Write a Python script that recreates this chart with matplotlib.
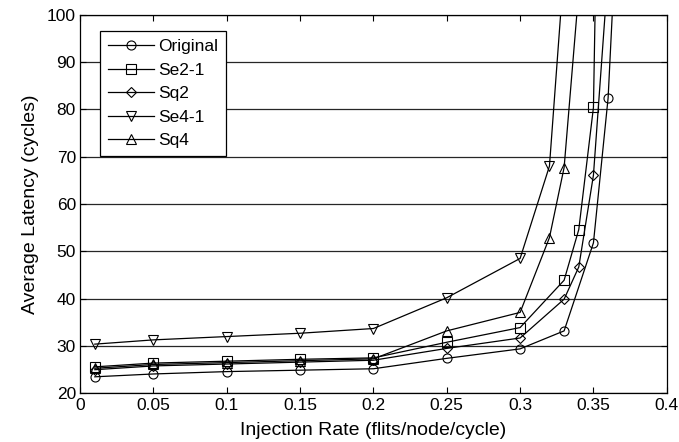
import matplotlib
matplotlib.use('Agg')
import matplotlib.pyplot as plt

# injection rates and latencies
x_original = [0.01, 0.05, 0.1, 0.15, 0.2, 0.25, 0.3, 0.33, 0.35, 0.36, 0.37]
y_original = [23.5, 24.1, 24.6, 24.9, 25.2, 27.4, 29.4, 33.2, 51.8, 82.4, 145]

x_se21 = [0.01, 0.05, 0.1, 0.15, 0.2, 0.25, 0.3, 0.33, 0.34, 0.35, 0.36]
y_se21 = [25.6, 26.4, 26.8, 27.2, 27.5, 30.8, 33.9, 43.9, 54.6, 80.4, 260]

x_sq2 = [0.01, 0.05, 0.1, 0.15, 0.2, 0.25, 0.3, 0.33, 0.34, 0.35, 0.36]
y_sq2 = [25.0, 25.8, 26.2, 26.6, 27.0, 29.5, 31.7, 39.9, 46.7, 66.1, 109]

x_se41 = [0.01, 0.05, 0.1, 0.15, 0.2, 0.25, 0.3, 0.32, 0.33]
y_se41 = [30.4, 31.3, 32.0, 32.7, 33.7, 40.2, 48.5, 68.0, 110]

x_sq4 = [0.01, 0.05, 0.1, 0.15, 0.2, 0.25, 0.3, 0.32, 0.33, 0.34]
y_sq4 = [25.3, 26.1, 26.5, 26.9, 27.3, 33.2, 37.1, 52.9, 67.7, 105]

series = [
    ('Original', x_original, y_original, 'o'),
    ('Se2-1', x_se21, y_se21, 's'),
    ('Sq2', x_sq2, y_sq2, 'D'),
    ('Se4-1', x_se41, y_se41, 'v'),
    ('Sq4', x_sq4, y_sq4, '^'),
]

plt.rcParams['font.family'] = ['Liberation Sans', 'DejaVu Sans']

fig = plt.figure(figsize=(6.79, 4.42), dpi=100)
ax = fig.add_axes([0.118, 0.110, 0.864, 0.857])

for name, xs, ys, m in series:
    ms = 5 if m == 'D' else 6.5
    ax.plot(xs, ys, color='black', linewidth=0.9, marker=m, markersize=ms,
            markerfacecolor='none', markeredgecolor='black', markeredgewidth=0.8,
            label=name)

ax.set_xlim(0, 0.4)
ax.set_ylim(20, 100)
ax.set_xticks([0, 0.05, 0.1, 0.15, 0.2, 0.25, 0.3, 0.35, 0.4])
ax.set_xticklabels(['0', '0.05', '0.1', '0.15', '0.2', '0.25', '0.3', '0.35', '0.4'])
ax.set_yticks(range(20, 101, 10))
ax.yaxis.grid(True, color='0.15', linewidth=0.9)
ax.set_axisbelow(True)
ax.tick_params(direction='in', top=True, right=True, labelsize=12.5, length=4, pad=3)
for s in ax.spines.values():
    s.set_linewidth(0.9)

ax.set_xlabel('Injection Rate (flits/node/cycle)', fontsize=14, labelpad=7)
ax.set_ylabel('Average Latency (cycles)', fontsize=14, labelpad=6)

leg = ax.legend(loc='upper left', bbox_to_anchor=(0.034, 0.956), borderaxespad=0,
                fontsize=12.5, frameon=True, fancybox=False, edgecolor='black',
                framealpha=1, handlelength=2.65, handletextpad=0.25,
                labelspacing=0.48, borderpad=0.45)
leg.get_frame().set_linewidth(0.9)

fig.savefig('out.png', dpi=100)
